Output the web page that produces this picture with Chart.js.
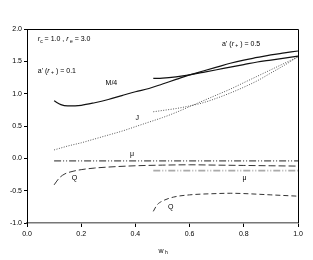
<!DOCTYPE html>
<html>
<head>
<meta charset="utf-8">
<script src="https://cdn.jsdelivr.net/npm/chart.js@4"></script>
<style>
  html, body { margin: 0; padding: 0; background: #fff; }
  #wrap { width: 313px; height: 260px; }
</style>
</head>
<body>
<div id="wrap"><canvas id="c" width="313" height="260"></canvas></div>
<script>
// ejes
const xTicks = ['0.0', '0.2', '0.4', '0.6', '0.8', '1.0'];
const yTicks = ['-1.0', '-0.5', '0.0', '0.5', '1.0', '1.5', '2.0'];

// a'(r+) = 0.1  (w_h de 0.1 a 1.0)
const xA   = [0.10, 0.125, 0.15, 0.20, 0.25, 0.30, 0.35, 0.40, 0.45, 0.50, 0.55, 0.60, 0.65, 0.70, 0.75, 0.80, 0.85, 0.90, 0.95, 1.00];
const m4A  = [0.89, 0.83, 0.81, 0.82, 0.86, 0.91, 0.97, 1.03, 1.08, 1.15, 1.22, 1.29, 1.35, 1.41, 1.47, 1.52, 1.56, 1.60, 1.63, 1.66];
const jA   = [0.13, 0.16, 0.19, 0.24, 0.30, 0.36, 0.42, 0.49, 0.56, 0.63, 0.71, 0.80, 0.89, 0.98, 1.07, 1.17, 1.27, 1.37, 1.47, 1.57];
const xQA  = [0.10, 0.12, 0.14, 0.17, 0.20, 0.25, 0.30, 0.40, 0.50, 0.60, 0.70, 0.80, 0.90, 1.00];
const qA   = [-0.41, -0.30, -0.24, -0.20, -0.175, -0.15, -0.135, -0.115, -0.105, -0.10, -0.105, -0.11, -0.115, -0.12];
const xMuA = [0.10, 1.00];
const muA  = [-0.04, -0.04];

// a'(r+) = 0.5  (w_h de 0.466 a 1.0)
const xB   = [0.466, 0.50, 0.55, 0.60, 0.65, 0.70, 0.75, 0.80, 0.85, 0.90, 0.95, 1.00];
const m4B  = [1.235, 1.24, 1.26, 1.29, 1.33, 1.37, 1.41, 1.45, 1.49, 1.52, 1.55, 1.58];
const jB   = [0.72, 0.74, 0.77, 0.81, 0.86, 0.93, 1.01, 1.10, 1.20, 1.32, 1.44, 1.57];
const xQB  = [0.466, 0.48, 0.50, 0.54, 0.60, 0.70, 0.75, 0.80, 0.90, 1.00];
const qB   = [-0.82, -0.72, -0.66, -0.60, -0.565, -0.545, -0.54, -0.545, -0.565, -0.585];
const xMuB = [0.466, 1.00];
const muB  = [-0.19, -0.19];

const FONT = "'Liberation Sans', Arial, sans-serif";
const pts = (xs, ys) => xs.map((x, i) => ({ x, y: ys[i] }));

function line(xs, ys, color, width, dash) {
  return {
    data: pts(xs, ys), borderColor: color, borderWidth: width, borderDash: dash,
    pointRadius: 0, cubicInterpolationMode: 'monotone', fill: false,
  };
}

const datasets = [
  line(xA, m4A, '#111', 1.2, []),
  line(xB, m4B, '#111', 1.2, []),
  line(xA, jA, '#555', 1, [1, 1.5]),
  line(xB, jB, '#555', 1, [1, 1.5]),
  line(xMuA, muA, '#222', 1, [7, 2, 1, 2, 1, 2]),
  line(xMuB, muB, '#aaa', 1.6, [7, 2, 1, 2, 1, 2]),
  line(xQA, qA, '#333', 1, [7, 3]),
  line(xQB, qB, '#333', 1, [5, 3]),
];

// textos dentro del gráfico (coordenadas de datos); partes: [texto, estilo]
const notes = [
  { x: 0.04, y: 1.84, parts: [['r', 'i'], ['c', 's'], [' = 1.0 , ', 'n'], ['r', 'i'], [' e', 's'], [' = 3.0', 'n']] },
  { x: 0.04, y: 1.355, parts: [["a' (", 'n'], ['r', 'i'], [' +', 's'], [' ) = 0.1', 'n']] },
  { x: 0.72, y: 1.77, parts: [["a' (", 'n'], ['r', 'i'], [' +', 's'], [' ) = 0.5', 'n']] },
  { x: 0.29, y: 1.16, parts: [['M/4', 'n']] },
  { x: 0.40, y: 0.62, parts: [['J', 'n']] },
  { x: 0.38, y: 0.07, parts: [['μ', 'n']] },
  { x: 0.795, y: -0.30, parts: [['μ', 'n']] },
  { x: 0.165, y: -0.30, parts: [['Q', 'n']] },
  { x: 0.52, y: -0.75, parts: [['Q', 'n']] },
];

function drawParts(ctx, x, y, parts) {
  let cx = x;
  parts.forEach(([t, s]) => {
    if (s === 's') { ctx.font = `5px ${FONT}`; ctx.fillText(t, cx, y + 2); }
    else if (s === 'i') { ctx.font = `italic 7px ${FONT}`; ctx.fillText(t, cx, y); }
    else { ctx.font = `7px ${FONT}`; ctx.fillText(t, cx, y); }
    cx += ctx.measureText(t).width;
  });
}

const labelsPlugin = {
  id: 'labels',
  afterDatasetsDraw(chart) {
    const { ctx, chartArea: a, scales: { x, y } } = chart;
    ctx.save();
    // marco superior y derecho
    ctx.strokeStyle = '#000'; ctx.lineWidth = 1;
    ctx.beginPath();
    ctx.moveTo(a.left, a.top + 0.5); ctx.lineTo(a.right + 0.5, a.top + 0.5); ctx.lineTo(a.right + 0.5, a.bottom);
    ctx.stroke();
    ctx.fillStyle = '#000';
    ctx.textBaseline = 'middle';
    notes.forEach((n) => drawParts(ctx, x.getPixelForValue(n.x), y.getPixelForValue(n.y), n.parts));
    // título del eje x
    drawParts(ctx, (a.left + a.right) / 2 - 4, a.bottom + 28, [['w', 'n'], [' h', 's']]);
    ctx.restore();
  },
};

new Chart(document.getElementById('c'), {
  type: 'line',
  data: { datasets },
  plugins: [labelsPlugin],
  options: {
    responsive: false, animation: false,
    layout: { padding: { left: 0, right: 15, top: 29, bottom: 0 } },
    plugins: { legend: { display: false }, tooltip: { enabled: false } },
    scales: {
      x: {
        type: 'linear', min: 0, max: 1,
        afterFit: (s) => { s.height = 37; },
        afterBuildTicks: (s) => { s.ticks = xTicks.map((v) => ({ value: +v })); },
        ticks: { callback: (v) => xTicks.find((t) => +t === v), font: { family: FONT, size: 7 }, color: '#000', padding: 3, maxRotation: 0 },
        grid: { drawOnChartArea: false, tickLength: 4, color: '#000' },
        border: { color: '#777', width: 1.5 },
      },
      y: {
        type: 'linear', min: -1, max: 2,
        afterFit: (s) => { s.width = 27; },
        afterBuildTicks: (s) => { s.ticks = yTicks.map((v) => ({ value: +v })); },
        ticks: { callback: (v) => yTicks.find((t) => +t === v), font: { family: FONT, size: 7 }, color: '#000', padding: 2 },
        grid: { drawOnChartArea: false, tickLength: 3, color: '#000' },
        border: { color: '#000', width: 1 },
      },
    },
  },
});
</script>
</body>
</html>
